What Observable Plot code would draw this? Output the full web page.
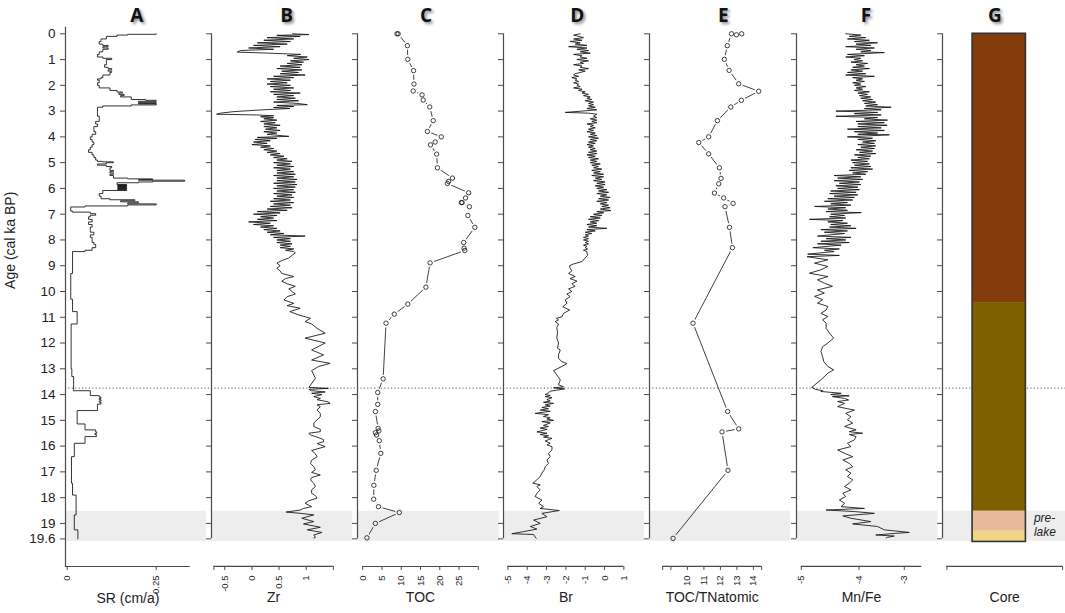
<!DOCTYPE html>
<html><head><meta charset="utf-8">
<script src="https://cdn.jsdelivr.net/npm/d3@7"></script>
<script src="https://cdn.jsdelivr.net/npm/@observablehq/plot@0.6"></script>
<style>
body{margin:0;background:#fff;}
#chart{position:relative;width:1065px;height:613px;overflow:hidden;font-family:"Liberation Sans",Arial,sans-serif;}
#chart svg{position:absolute;top:0;overflow:visible;}
.letter{position:absolute;top:2px;font-family:"Open Sans","DejaVu Sans",sans-serif;font-weight:700;font-size:19px;line-height:26px;color:#111;text-shadow:2px 2px 3px rgba(0,0,0,0.45);transform:translateX(-50%);}
</style></head><body><div id="chart"></div><script>
// ---------- DATA ----------
const panelLetters = ["A","B","C","D","E","F","G"];
const axisLabels = ["SR (cm/a)","Zr","TOC","Br","TOC/TNatomic","Mn/Fe","Core"];
const ageTicks = [0,1,2,3,4,5,6,7,8,9,10,11,12,13,14,15,16,17,18,19,19.6];
const bandAges = [18.53, 19.7];
const boundaryAge = 13.75;

const srTicks = [0, 0.25], srTickLabels = ["0","0.25"], srAxis = [-0.005, 0.346];
const zrTicks = [-0.7,-0.5,0,0.5,1,1.5], zrTickLabels = ["","-0.5","0","0.5","1",""], zrAxis = [-0.7, 1.5];
const tocTicks = [0,5,10,15,20,25,30], tocTickLabels = ["0","5","10","15","20","25",""], tocAxis = [0, 30];
const brTicks = [-5,-4,-3,-2,-1,0,1], brTickLabels = ["-5","-4","-3","-2","-1","0","1"], brAxis = [-5, 1];
const tntTicks = [8.5,9,10,11,12,13,14,14.5], tntTickLabels = ["","","10","11","12","13","14",""], tntAxis = [8.5, 14.5];
const mnTicks = [-5,-4,-3], mnTickLabels = ["-5","-4","-3"], mnAxis = [-5, -2.616];
const coreTicks = [0,1], coreTickLabels = ["",""], coreAxis = [0, 1];

// A: sedimentation rate (age, SR), stepwise
const sr = [[0,0.25],[0.02,0.17],[0.05,0.14],[0.1,0.11],[0.2,0.095],[0.3,0.09],[0.4,0.10],[0.45,0.115],[0.5,0.10],[0.55,0.115],[0.6,0.10],[0.7,0.09],[0.8,0.085],[0.9,0.10],[0.95,0.125],[1.0,0.11],[1.1,0.11],[1.2,0.105],[1.3,0.115],[1.35,0.125],[1.4,0.115],[1.45,0.125],[1.5,0.12],[1.6,0.10],[1.7,0.095],[1.75,0.085],[1.8,0.09],[1.9,0.085],[2.0,0.09],[2.1,0.12],[2.2,0.14],[2.26,0.155],[2.3,0.145],[2.35,0.16],[2.4,0.15],[2.45,0.18],[2.55,0.22],[2.58,0.25],[2.62,0.2],[2.66,0.25],[2.7,0.2],[2.72,0.25],[2.76,0.18],[2.8,0.1],[2.85,0.085],[3.2,0.09],[3.4,0.08],[3.5,0.085],[3.6,0.075],[3.8,0.08],[3.9,0.07],[4.0,0.065],[4.1,0.07],[4.2,0.075],[4.3,0.07],[4.4,0.065],[4.5,0.06],[4.6,0.07],[4.7,0.075],[4.8,0.08],[4.9,0.085],[4.95,0.10],[4.97,0.13],[5.0,0.11],[5.05,0.085],[5.1,0.11],[5.15,0.125],[5.2,0.12],[5.3,0.13],[5.35,0.12],[5.4,0.13],[5.45,0.12],[5.5,0.13],[5.6,0.17],[5.63,0.24],[5.66,0.2],[5.68,0.33],[5.72,0.24],[5.75,0.2],[5.78,0.14],[5.85,0.167],[5.87,0.142],[5.89,0.167],[5.91,0.142],[5.93,0.167],[5.95,0.142],[5.97,0.167],[5.99,0.142],[6.01,0.167],[6.03,0.142],[6.05,0.167],[6.08,0.1],[6.2,0.09],[6.3,0.095],[6.4,0.12],[6.44,0.19],[6.48,0.15],[6.52,0.2],[6.56,0.17],[6.6,0.25],[6.64,0.17],[6.68,0.05],[6.72,0.01],[6.88,0.015],[6.92,0.065],[6.98,0.08],[7.04,0.065],[7.1,0.06],[7.2,0.07],[7.3,0.06],[7.4,0.07],[7.5,0.065],[7.6,0.065],[7.7,0.075],[7.8,0.065],[7.9,0.07],[8.1,0.075],[8.17,0.08],[8.3,0.07],[8.4,0.05],[8.45,0.015],[9.3,0.01],[10.3,0.015],[10.78,0.028],[11.26,0.011],[13.0,0.013],[13.3,0.018],[13.85,0.065],[14.04,0.09],[14.1,0.095],[14.15,0.09],[14.2,0.095],[14.25,0.09],[14.3,0.095],[14.37,0.085],[14.62,0.028],[15.14,0.05],[15.37,0.08],[15.45,0.083],[15.5,0.078],[15.55,0.082],[15.63,0.05],[15.89,0.02],[16.41,0.012],[17.44,0.015],[17.9,0.025],[18.67,0.02],[19.25,0.03],[19.6,0.03]];

// B: Zr (age, value)
const zr = [[0,0.75],[0.03,1.05],[0.06,0.46],[0.1,0.89],[0.15,0.28],[0.2,0.77],[0.25,0.22],[0.3,0.71],[0.35,0.10],[0.4,0.65],[0.45,0.03],[0.5,0.52],[0.55,-0.06],[0.6,0.40],[0.65,-0.21],[0.71,-0.27],[0.75,0.3],[0.8,0.9],[0.85,0.65],[0.9,1.02],[0.95,0.77],[1.0,1.05],[1.05,0.71],[1.1,0.95],[1.15,0.65],[1.2,0.92],[1.25,0.52],[1.3,0.89],[1.35,0.46],[1.4,0.92],[1.45,0.55],[1.5,0.86],[1.55,0.52],[1.6,0.98],[1.65,0.40],[1.7,0.77],[1.75,0.28],[1.8,0.71],[1.85,0.34],[1.9,0.65],[1.95,0.28],[2.0,0.71],[2.05,0.34],[2.1,0.77],[2.15,0.40],[2.2,0.71],[2.25,0.34],[2.3,0.89],[2.35,0.40],[2.4,0.77],[2.45,0.46],[2.5,0.80],[2.55,0.46],[2.6,0.86],[2.65,0.40],[2.7,0.83],[2.75,1.02],[2.78,0.46],[2.82,0.77],[2.86,0.40],[2.9,0.70],[2.95,0.2],[3.02,-0.33],[3.08,-0.58],[3.12,-0.65],[3.15,0.09],[3.18,0.40],[3.22,0.16],[3.26,0.40],[3.3,0.22],[3.35,0.46],[3.4,0.16],[3.45,0.43],[3.5,0.22],[3.55,0.52],[3.6,0.22],[3.65,0.46],[3.7,0.25],[3.75,0.52],[3.8,0.22],[3.85,0.46],[3.9,0.28],[3.98,0.68],[4.02,0.10],[4.06,0.46],[4.1,0.06],[4.15,0.34],[4.2,0.03],[4.25,0.28],[4.3,0.0],[4.35,0.34],[4.4,0.16],[4.45,0.40],[4.5,0.22],[4.55,0.46],[4.6,0.28],[4.65,0.52],[4.7,0.34],[4.75,0.59],[4.8,0.40],[4.85,0.65],[4.9,0.46],[4.95,0.74],[5.0,0.40],[5.05,0.71],[5.1,0.46],[5.15,0.77],[5.2,0.40],[5.25,0.71],[5.3,0.46],[5.35,0.77],[5.4,0.46],[5.45,0.80],[5.5,0.40],[5.55,0.77],[5.6,0.46],[5.65,0.83],[5.7,0.46],[5.75,0.80],[5.8,0.40],[5.85,0.83],[5.9,0.46],[5.95,0.80],[6.0,0.40],[6.05,0.77],[6.1,0.46],[6.15,0.80],[6.2,0.40],[6.25,0.74],[6.3,0.46],[6.35,0.77],[6.4,0.40],[6.45,0.71],[6.5,0.34],[6.55,0.77],[6.6,0.40],[6.65,0.71],[6.7,0.34],[6.75,0.74],[6.8,0.28],[6.85,0.65],[6.9,0.10],[6.95,0.52],[7.0,0.03],[7.05,0.46],[7.1,0.16],[7.15,0.40],[7.2,0.10],[7.25,0.46],[7.3,-0.06],[7.35,0.34],[7.4,0.03],[7.45,0.40],[7.5,0.16],[7.55,0.46],[7.6,0.22],[7.65,0.52],[7.7,0.28],[7.75,0.59],[7.8,0.34],[7.85,0.98],[7.9,0.40],[7.95,0.71],[8.0,0.46],[8.05,0.71],[8.1,0.46],[8.15,0.74],[8.2,0.52],[8.25,0.71],[8.3,0.52],[8.35,0.77],[8.4,0.62],[8.45,0.77],[8.5,0.80],[8.6,0.74],[8.7,0.68],[8.8,0.55],[8.9,0.46],[9.0,0.52],[9.1,0.46],[9.2,0.52],[9.3,0.55],[9.42,0.77],[9.5,0.62],[9.6,0.55],[9.7,0.65],[9.8,0.80],[9.9,0.68],[10.0,0.74],[10.1,0.80],[10.2,0.65],[10.33,0.59],[10.46,0.77],[10.55,0.65],[10.65,0.89],[10.78,0.70],[10.91,0.86],[11.04,1.08],[11.17,0.98],[11.26,1.10],[11.43,1.20],[11.62,1.35],[11.81,0.98],[12.0,1.35],[12.27,1.10],[12.46,1.32],[12.66,1.10],[12.79,1.44],[12.91,1.23],[13.07,1.10],[13.37,1.17],[13.72,1.05],[13.76,1.41],[13.8,1.05],[13.85,1.10],[13.9,1.35],[13.95,1.10],[14.0,1.29],[14.08,1.14],[14.15,1.26],[14.2,1.20],[14.28,1.40],[14.34,1.44],[14.4,1.20],[14.47,1.26],[14.6,1.20],[14.73,1.26],[14.86,1.26],[14.98,1.20],[15.1,1.14],[15.24,1.14],[15.35,1.26],[15.44,1.26],[15.5,1.05],[15.57,1.08],[15.65,1.20],[15.75,1.32],[15.83,1.32],[15.9,1.20],[16.02,1.35],[16.17,1.10],[16.3,1.17],[16.41,1.20],[16.55,1.10],[16.67,1.08],[16.8,1.14],[16.92,1.17],[17.02,1.10],[17.12,1.26],[17.22,1.10],[17.31,1.08],[17.45,1.14],[17.57,1.17],[17.7,1.10],[17.83,1.10],[17.92,1.17],[18.02,1.20],[18.12,1.05],[18.22,0.98],[18.35,1.10],[18.42,0.95],[18.48,0.89],[18.56,0.63],[18.6,0.85],[18.67,1.14],[18.8,0.92],[18.93,1.14],[19.02,0.95],[19.15,1.26],[19.25,1.02],[19.35,1.29],[19.45,1.14],[19.54,1.17],[19.57,1.14]];

// C: TOC (age, %)
const toc = [[0,8.9],[0,9.2],[0.46,11.6],[0.99,11.7],[1.43,13.2],[1.95,13.3],[2.22,13.1],[2.37,15.4],[2.57,15.7],[2.84,17.4],[3.37,18.3],[3.79,16.8],[4.0,20.4],[4.2,18.8],[4.31,17.6],[4.67,19.2],[5.2,19.4],[5.6,23.3],[5.73,22.3],[5.81,22.0],[6.17,27.5],[6.37,26.7],[6.55,25.8],[6.55,25.6],[6.71,27.7],[7.05,27.3],[7.51,29.1],[8.1,26.2],[8.32,26.3],[8.41,26.5],[8.89,17.5],[9.83,16.4],[10.49,11.7],[10.88,8.2],[11.23,6.05],[13.39,5.3],[13.92,3.9],[14.38,3.9],[14.66,3.3],[15.31,4.0],[15.41,4.2],[15.48,3.3],[15.57,3.6],[15.79,4.3],[16.28,4.7],[16.94,3.5],[17.52,2.9],[18.06,2.85],[18.35,4.1],[18.58,9.5],[19.0,3.3],[19.56,1.1]];

// D: Br (age, value)
const br = [[0,-1.26],[0.05,-1.60],[0.1,-1.34],[0.15,-1.09],[0.2,-1.60],[0.25,-1.17],[0.3,-1.78],[0.35,-1.26],[0.4,-1.52],[0.45,-0.91],[0.5,-1.86],[0.55,-0.91],[0.6,-1.43],[0.65,-0.83],[0.7,-1.26],[0.75,-0.74],[0.8,-1.60],[0.85,-1.17],[0.9,-1.26],[0.95,-0.91],[1.0,-1.43],[1.05,-0.83],[1.1,-1.26],[1.15,-1.09],[1.2,-1.60],[1.25,-1.17],[1.3,-1.26],[1.35,-0.83],[1.4,-1.34],[1.45,-1.00],[1.5,-1.26],[1.55,-1.52],[1.6,-1.60],[1.65,-1.34],[1.7,-1.69],[1.75,-1.43],[1.8,-1.52],[1.85,-1.34],[1.9,-1.60],[1.95,-1.34],[2.0,-1.43],[2.05,-1.26],[2.1,-1.60],[2.15,-1.17],[2.2,-1.34],[2.25,-1.00],[2.3,-1.17],[2.35,-0.83],[2.4,-1.09],[2.45,-0.74],[2.5,-0.91],[2.55,-0.66],[2.6,-1.00],[2.65,-0.57],[2.7,-0.83],[2.75,-0.57],[2.8,-0.83],[2.85,-0.48],[2.9,-0.91],[2.95,-0.40],[3.0,-1.17],[3.05,-2.03],[3.08,-0.83],[3.12,-0.40],[3.2,-0.57],[3.25,-0.40],[3.3,-0.74],[3.35,-0.40],[3.4,-0.66],[3.45,-0.40],[3.5,-0.91],[3.55,-0.57],[3.6,-0.74],[3.65,-0.48],[3.7,-0.83],[3.75,-0.57],[3.8,-0.91],[3.85,-0.48],[3.9,-0.74],[3.95,-0.40],[4.0,-0.83],[4.05,-0.31],[4.1,-0.74],[4.15,-0.40],[4.2,-0.83],[4.25,-0.48],[4.3,-0.91],[4.35,-0.57],[4.4,-0.83],[4.45,-0.48],[4.5,-0.74],[4.55,-0.40],[4.6,-0.83],[4.65,-0.40],[4.7,-0.91],[4.75,-0.48],[4.8,-0.83],[4.85,-0.31],[4.9,-0.74],[4.95,-0.40],[5.0,-0.74],[5.05,-0.22],[5.1,-0.66],[5.15,-0.31],[5.2,-0.57],[5.25,-0.14],[5.3,-0.66],[5.35,-0.22],[5.4,-0.57],[5.45,-0.05],[5.5,-0.66],[5.55,-0.05],[5.6,-0.48],[5.65,-0.14],[5.7,-0.57],[5.75,0.03],[5.8,-0.40],[5.85,0.03],[5.9,-0.48],[5.95,-0.05],[6.0,-0.40],[6.05,0.12],[6.1,-0.31],[6.15,0.21],[6.2,-0.40],[6.25,0.12],[6.3,-0.22],[6.35,0.29],[6.4,-0.31],[6.45,0.21],[6.5,-0.40],[6.55,0.12],[6.6,-0.22],[6.65,0.21],[6.7,-0.14],[6.75,0.29],[6.8,-0.22],[6.86,0.33],[6.9,-0.40],[6.95,-0.05],[7.0,-0.57],[7.05,-0.14],[7.1,-0.74],[7.15,-0.22],[7.2,-0.83],[7.25,-0.31],[7.3,-0.74],[7.35,-0.40],[7.4,-0.91],[7.45,-0.40],[7.5,-0.83],[7.55,0.12],[7.6,-0.91],[7.65,-0.48],[7.7,-1.00],[7.75,-0.66],[7.8,-1.00],[7.85,-0.83],[7.9,-1.09],[7.95,-0.83],[8.0,-1.09],[8.05,-0.83],[8.1,-1.00],[8.15,-0.83],[8.2,-1.09],[8.25,-0.91],[8.3,-1.00],[8.35,-0.88],[8.4,-1.09],[8.45,-0.91],[8.5,-0.91],[8.6,-0.88],[8.7,-1.00],[8.84,-1.17],[8.93,-1.60],[9.0,-1.81],[9.1,-1.78],[9.2,-1.69],[9.3,-1.86],[9.42,-1.52],[9.5,-1.78],[9.6,-1.43],[9.7,-1.69],[9.8,-1.52],[9.9,-1.86],[10.0,-1.69],[10.1,-1.95],[10.2,-1.78],[10.32,-2.03],[10.46,-1.95],[10.59,-2.16],[10.72,-1.81],[10.85,-2.12],[10.98,-2.20],[11.04,-2.50],[11.1,-2.38],[11.17,-2.55],[11.26,-2.38],[11.4,-2.47],[11.6,-2.43],[11.8,-2.47],[12.0,-2.38],[12.2,-2.43],[12.27,-2.29],[12.45,-2.38],[12.6,-2.38],[12.72,-2.21],[12.8,-1.95],[12.91,-2.21],[13.07,-2.64],[13.24,-2.47],[13.43,-2.29],[13.62,-2.38],[13.7,-2.12],[13.74,-2.64],[13.78,-2.07],[13.87,-2.81],[13.93,-2.90],[14.0,-3.07],[14.04,-2.81],[14.08,-3.07],[14.12,-2.72],[14.2,-2.98],[14.25,-2.81],[14.3,-3.16],[14.34,-2.64],[14.4,-3.07],[14.45,-2.81],[14.5,-3.24],[14.55,-2.90],[14.6,-3.33],[14.65,-2.81],[14.73,-3.59],[14.78,-2.90],[14.85,-3.16],[14.9,-2.81],[14.95,-2.98],[15.0,-2.64],[15.05,-3.24],[15.1,-2.81],[15.2,-3.16],[15.24,-2.90],[15.3,-3.33],[15.35,-2.98],[15.45,-3.50],[15.5,-2.98],[15.55,-3.33],[15.6,-2.90],[15.65,-3.16],[15.7,-2.72],[15.8,-3.07],[15.89,-2.81],[15.95,-2.98],[16.02,-2.72],[16.15,-2.72],[16.28,-2.90],[16.41,-2.81],[16.54,-2.98],[16.67,-2.90],[16.8,-3.07],[16.92,-3.12],[17.05,-3.24],[17.18,-3.33],[17.31,-3.50],[17.44,-3.71],[17.5,-3.33],[17.57,-3.50],[17.7,-3.33],[17.83,-3.50],[17.96,-3.59],[18.09,-3.24],[18.22,-3.41],[18.35,-3.16],[18.42,-3.33],[18.5,-2.34],[18.61,-3.24],[18.74,-2.98],[18.87,-3.67],[19.0,-3.33],[19.12,-3.84],[19.22,-3.50],[19.32,-4.19],[19.4,-4.8],[19.43,-3.67],[19.53,-3.59],[19.58,-3.53]];

// E: TOC/TN atomic (age, value)
const tnt = [[0,13.29],[0.04,12.97],[0,12.67],[0.46,12.42],[0.99,12.24],[1.42,12.53],[1.94,13.11],[2.23,14.32],[2.58,13.27],[2.84,12.63],[3.37,11.82],[4.0,11.29],[4.22,10.69],[4.66,11.29],[5.2,11.94],[5.61,12.04],[5.82,11.9],[6.18,11.64],[6.37,12.2],[6.58,12.77],[6.71,12.28],[7.51,12.55],[8.3,12.73],[11.23,10.34],[14.66,12.44],[15.33,13.11],[15.45,12.1],[16.94,12.46],[19.58,9.13]];

// F: Mn/Fe (age, value)
const mnfe = [[0,-4.23],[0.05,-3.96],[0.1,-4.17],[0.15,-3.85],[0.2,-4.20],[0.25,-3.77],[0.3,-4.08],[0.35,-3.59],[0.4,-4.05],[0.45,-3.74],[0.5,-4.23],[0.55,-3.66],[0.6,-4.05],[0.65,-3.74],[0.7,-3.96],[0.73,-3.44],[0.8,-4.20],[0.85,-3.88],[0.9,-4.23],[0.95,-3.96],[1.0,-4.08],[1.05,-3.92],[1.1,-4.14],[1.15,-3.81],[1.2,-4.05],[1.25,-3.88],[1.3,-4.11],[1.35,-3.77],[1.4,-4.14],[1.45,-3.92],[1.5,-4.20],[1.55,-3.85],[1.6,-4.23],[1.65,-3.66],[1.7,-4.11],[1.75,-3.92],[1.8,-4.05],[1.85,-3.88],[1.9,-4.11],[1.95,-3.96],[2.0,-4.08],[2.05,-3.85],[2.1,-4.05],[2.15,-3.92],[2.2,-4.08],[2.25,-3.77],[2.3,-4.02],[2.35,-3.81],[2.4,-3.99],[2.45,-3.74],[2.5,-3.96],[2.55,-3.70],[2.6,-3.92],[2.65,-3.63],[2.7,-3.88],[2.75,-3.59],[2.8,-3.85],[2.85,-3.29],[2.9,-3.88],[2.95,-3.51],[3.0,-4.40],[3.05,-3.59],[3.1,-4.08],[3.15,-3.51],[3.2,-4.40],[3.25,-3.59],[3.3,-3.88],[3.35,-3.37],[3.4,-4.05],[3.45,-3.44],[3.5,-4.02],[3.55,-3.38],[3.6,-4.02],[3.65,-3.51],[3.7,-4.20],[3.75,-3.44],[3.8,-4.08],[3.85,-3.59],[3.9,-4.02],[3.92,-3.33],[4.0,-4.20],[4.05,-3.70],[4.1,-4.02],[4.15,-3.63],[4.2,-3.92],[4.25,-3.66],[4.3,-4.02],[4.35,-3.63],[4.4,-3.96],[4.45,-3.66],[4.5,-4.05],[4.55,-3.70],[4.6,-3.99],[4.65,-3.63],[4.7,-4.08],[4.75,-3.74],[4.8,-4.02],[4.85,-3.77],[4.9,-4.14],[4.95,-3.81],[5.0,-4.11],[5.05,-3.77],[5.1,-4.08],[5.15,-3.74],[5.2,-4.14],[5.25,-3.70],[5.3,-4.17],[5.35,-3.81],[5.4,-4.11],[5.45,-3.85],[5.5,-4.43],[5.55,-3.96],[5.6,-4.37],[5.65,-3.92],[5.7,-4.43],[5.75,-3.99],[5.8,-4.34],[5.85,-3.96],[5.9,-4.40],[5.95,-4.02],[6.0,-4.37],[6.05,-3.99],[6.1,-4.49],[6.15,-4.05],[6.2,-4.51],[6.25,-4.02],[6.3,-4.43],[6.35,-4.08],[6.4,-4.54],[6.45,-4.11],[6.5,-4.60],[6.55,-4.20],[6.6,-4.49],[6.65,-4.14],[6.7,-4.77],[6.75,-4.23],[6.8,-4.54],[6.85,-4.20],[6.9,-4.57],[6.94,-3.95],[7.0,-4.49],[7.05,-4.25],[7.1,-4.51],[7.15,-4.23],[7.2,-4.86],[7.25,-4.28],[7.3,-4.54],[7.35,-4.20],[7.4,-4.49],[7.45,-4.14],[7.5,-4.51],[7.55,-4.05],[7.6,-4.66],[7.65,-4.20],[7.7,-4.60],[7.75,-4.25],[7.85,-4.72],[7.9,-4.14],[7.95,-4.57],[8.0,-4.23],[8.05,-4.66],[8.1,-4.17],[8.15,-4.72],[8.2,-4.31],[8.3,-4.80],[8.35,-4.34],[8.4,-4.60],[8.45,-4.43],[8.55,-4.89],[8.6,-4.34],[8.65,-4.90],[8.77,-4.54],[8.9,-4.77],[9.03,-4.54],[9.16,-4.66],[9.29,-4.86],[9.42,-4.54],[9.55,-4.72],[9.68,-4.60],[9.8,-4.46],[9.94,-4.72],[10.06,-4.60],[10.19,-4.77],[10.32,-4.63],[10.45,-4.72],[10.58,-4.54],[10.72,-4.57],[10.85,-4.66],[10.97,-4.54],[11.1,-4.63],[11.23,-4.57],[11.43,-4.57],[11.62,-4.51],[11.81,-4.44],[12.0,-4.54],[12.14,-4.63],[12.33,-4.66],[12.53,-4.63],[12.72,-4.61],[12.91,-4.54],[13.04,-4.44],[13.17,-4.54],[13.43,-4.66],[13.63,-4.77],[13.72,-4.82],[13.8,-4.75],[13.85,-4.63],[13.88,-4.66],[13.95,-4.31],[14.0,-4.49],[14.05,-4.17],[14.08,-4.46],[14.15,-4.25],[14.21,-4.18],[14.27,-4.37],[14.34,-4.25],[14.47,-4.37],[14.55,-4.20],[14.6,-4.08],[14.73,-4.23],[14.86,-4.14],[14.98,-4.20],[15.11,-4.11],[15.24,-4.25],[15.37,-4.05],[15.44,-4.17],[15.5,-3.92],[15.55,-4.17],[15.63,-4.05],[15.76,-4.08],[15.89,-4.20],[16.02,-4.14],[16.15,-4.37],[16.28,-4.25],[16.41,-4.11],[16.54,-4.28],[16.67,-4.17],[16.8,-4.11],[16.92,-4.23],[17.05,-4.14],[17.18,-4.20],[17.31,-4.11],[17.44,-4.17],[17.57,-4.25],[17.7,-4.14],[17.83,-4.28],[17.96,-4.23],[18.09,-4.34],[18.22,-4.25],[18.35,-4.31],[18.42,-3.88],[18.48,-4.57],[18.54,-4.08],[18.61,-3.66],[18.71,-4.28],[18.8,-4.14],[18.93,-3.74],[19.02,-4.11],[19.12,-3.59],[19.25,-3.44],[19.35,-2.89],[19.39,-3.22],[19.45,-3.63],[19.49,-3.22],[19.54,-3.37],[19.57,-3.40]];

// G: core units (age from, age to)
const coreTops = [0, 10.43, 18.53, 19.3];
const coreBottoms = [10.43, 18.53, 19.3, 19.72];
const preLakeText = ["pre-", "lake"];
const preLakeAges = [18.81, 19.35];

// ---------- LAYOUT & STYLE ----------
const coreColors = ["#843c0c", "#7f6000", "#e8b99c", "#f1d584"];
const coreX = [0.222, 0.683];
const preLakeX = 0.752;
const letterX = [136.7, 286.7, 426, 577.3, 723.3, 866, 995];
// Mn/Fe axis of the reference is not evenly spaced: piecewise mapping of its labelled ticks
const mnKnots = [-5, -4, -3], mnKnotPx = [800.3, 858, 903.3];
const layout = [
  {L:0,     a:65,    r:206,   p0:66.7,   k:356},
  {L:201.1, a:211.1, r:352.2, p0:251.5,  k:54.3},
  {L:346.5, a:356.5, r:498.3, p0:361.7,  k:3.853},
  {L:493.3, a:503.3, r:644.4, p0:604.35, k:19.33},
  {L:639.4, a:649.4, r:790.5, p0:522.3,  k:16.5},
  {L:785.5, a:795.5, r:936.6, piecewise:true},
  {L:931.6, a:941.6, r:1065,  p0:946,    k:115.7}
];
const H = 613, frameTop = 26.7, frameBottom = 566;
const yDomain = [(frameTop-33.3)/25.77, (frameBottom-33.3)/25.77];
const axisColor = "#4a4a4a", textColor = "#222", bandColor = "#ededed";
const inBand = a => a >= bandAges[0] && a <= bandAges[1];

const mnToPx = d3.scaleLinear().domain(mnKnots).range(mnKnotPx);

function panel(i, ticks, tickLabels, axisExt, dataMarks) {
  const lay = layout[i];
  let xOpts, toPx;
  if (lay.piecewise) {
    toPx = v => mnToPx(v);
    xOpts = {transform: toPx, domain: [lay.a, lay.r], range: [lay.a - lay.L, lay.r - lay.L]};
  } else {
    toPx = v => lay.p0 + lay.k * v;
    xOpts = {domain: [(lay.a-lay.p0)/lay.k, (lay.r-lay.p0)/lay.k], range: [lay.a - lay.L, lay.r - lay.L]};
  }
  const fromPx = lay.piecewise ? (p => mnToPx.invert(p)) : (p => (p - lay.p0) / lay.k);
  const xd0 = fromPx(lay.a), xd1 = fromPx(lay.r);
  const mid = fromPx((toPx(axisExt[0]) + toPx(axisExt[1])) / 2);
  const lab = new Map(ticks.map((t, j) => [t, tickLabels[j]]));
  const marks = [
    Plot.rect([0], {x1: xd0, x2: xd1, y1: bandAges[0], y2: bandAges[1], fill: bandColor}),
    Plot.ruleY([boundaryAge], {stroke: "#7d7d7d", strokeWidth: 1.1, strokeDasharray: "1.2,2.2", insetRight: i < 6 ? -5 : 0}),
    ...dataMarks(),
    i === 0
      ? Plot.ruleX([xd0], {stroke: axisColor, strokeWidth: 1.2})
      : Plot.ruleX([xd0], {y1: 0, y2: 19.6, stroke: axisColor, strokeWidth: 1.2}),
    Plot.axisY(ageTicks, {anchor: "left", tickSize: 5, tickPadding: 5, color: axisColor, fill: textColor,
      tickFormat: i === 0 ? (d => String(d)) : (() => ""), fontSize: 13.5, label: null}),
    Plot.ruleY([yDomain[1]], {x1: axisExt[0], x2: axisExt[1], stroke: axisColor, strokeWidth: 1.2}),
    Plot.axisX(ticks, {anchor: "bottom", tickSize: 4, tickPadding: 5, tickRotate: -90, color: axisColor, fill: textColor,
      tickFormat: d => lab.get(d), fontSize: 9.5, label: null}),
    Plot.text([axisLabels[i]], {x: mid, frameAnchor: "bottom", dy: 36, text: d => d, fontSize: 14, fill: textColor})
  ];
  if (i === 0) marks.push(Plot.text(["Age (cal ka BP)"], {y: 9.9, frameAnchor: "left", dx: -55, rotate: -90, text: d => d, fontSize: 14, fill: textColor}));
  const svg = Plot.plot({
    width: lay.r - lay.L, height: H,
    marginLeft: lay.a - lay.L, marginRight: 0, marginTop: frameTop, marginBottom: H - frameBottom,
    x: xOpts,
    y: {domain: yDomain, range: [frameTop, frameBottom]},
    style: {background: "transparent", overflow: "visible", fontFamily: "Liberation Sans, Arial, sans-serif"},
    marks
  });
  svg.style.position = "absolute";
  svg.style.left = lay.L + "px";
  svg.style.top = "0px";
  document.getElementById("chart").appendChild(svg);
}

const X = d => d[1], Y = d => d[0];
const lineStyle = {x: X, y: Y, stroke: "#111", strokeWidth: 0.85};
function pointMarks(data) {
  return [
    Plot.line(data, {x: X, y: Y, stroke: "#111", strokeWidth: 0.8}),
    Plot.dot(data, {x: X, y: Y, r: 4.2, fill: "white", stroke: null, filter: d => !inBand(d[0])}),
    Plot.dot(data, {x: X, y: Y, r: 4.2, fill: bandColor, stroke: null, filter: d => inBand(d[0])}),
    Plot.dot(data, {x: X, y: Y, r: 2.2, fill: "none", stroke: "#111", strokeWidth: 0.8})
  ];
}

panel(0, srTicks, srTickLabels, srAxis, () => [Plot.line(sr, {...lineStyle, curve: "step-before"})]);
panel(1, zrTicks, zrTickLabels, zrAxis, () => [Plot.line(zr, lineStyle)]);
panel(2, tocTicks, tocTickLabels, tocAxis, () => pointMarks(toc));
panel(3, brTicks, brTickLabels, brAxis, () => [Plot.line(br, lineStyle)]);
panel(4, tntTicks, tntTickLabels, tntAxis, () => pointMarks(tnt));
panel(5, mnTicks, mnTickLabels, mnAxis, () => [Plot.line(mnfe, lineStyle)]);
panel(6, coreTicks, coreTickLabels, coreAxis, () => [
  ...coreTops.map((t, j) => Plot.rect([j], {x1: coreX[0], x2: coreX[1], y1: coreTops[j], y2: coreBottoms[j], fill: coreColors[j]})),
  Plot.rect([0], {x1: coreX[0], x2: coreX[1], y1: coreTops[0], y2: coreBottoms[coreBottoms.length-1], fill: "none", stroke: "#333", strokeWidth: 1.6}),
  Plot.text(preLakeText, {x: preLakeX, y: (d, j) => preLakeAges[j], text: d => d, textAnchor: "start", fontStyle: "italic", fontSize: 12, fill: "#222"})
]);

const chart = document.getElementById("chart");
panelLetters.forEach((l, i) => {
  const div = document.createElement("div");
  div.className = "letter";
  div.style.left = letterX[i] + "px";
  div.textContent = l;
  chart.appendChild(div);
});
</script></body></html>
